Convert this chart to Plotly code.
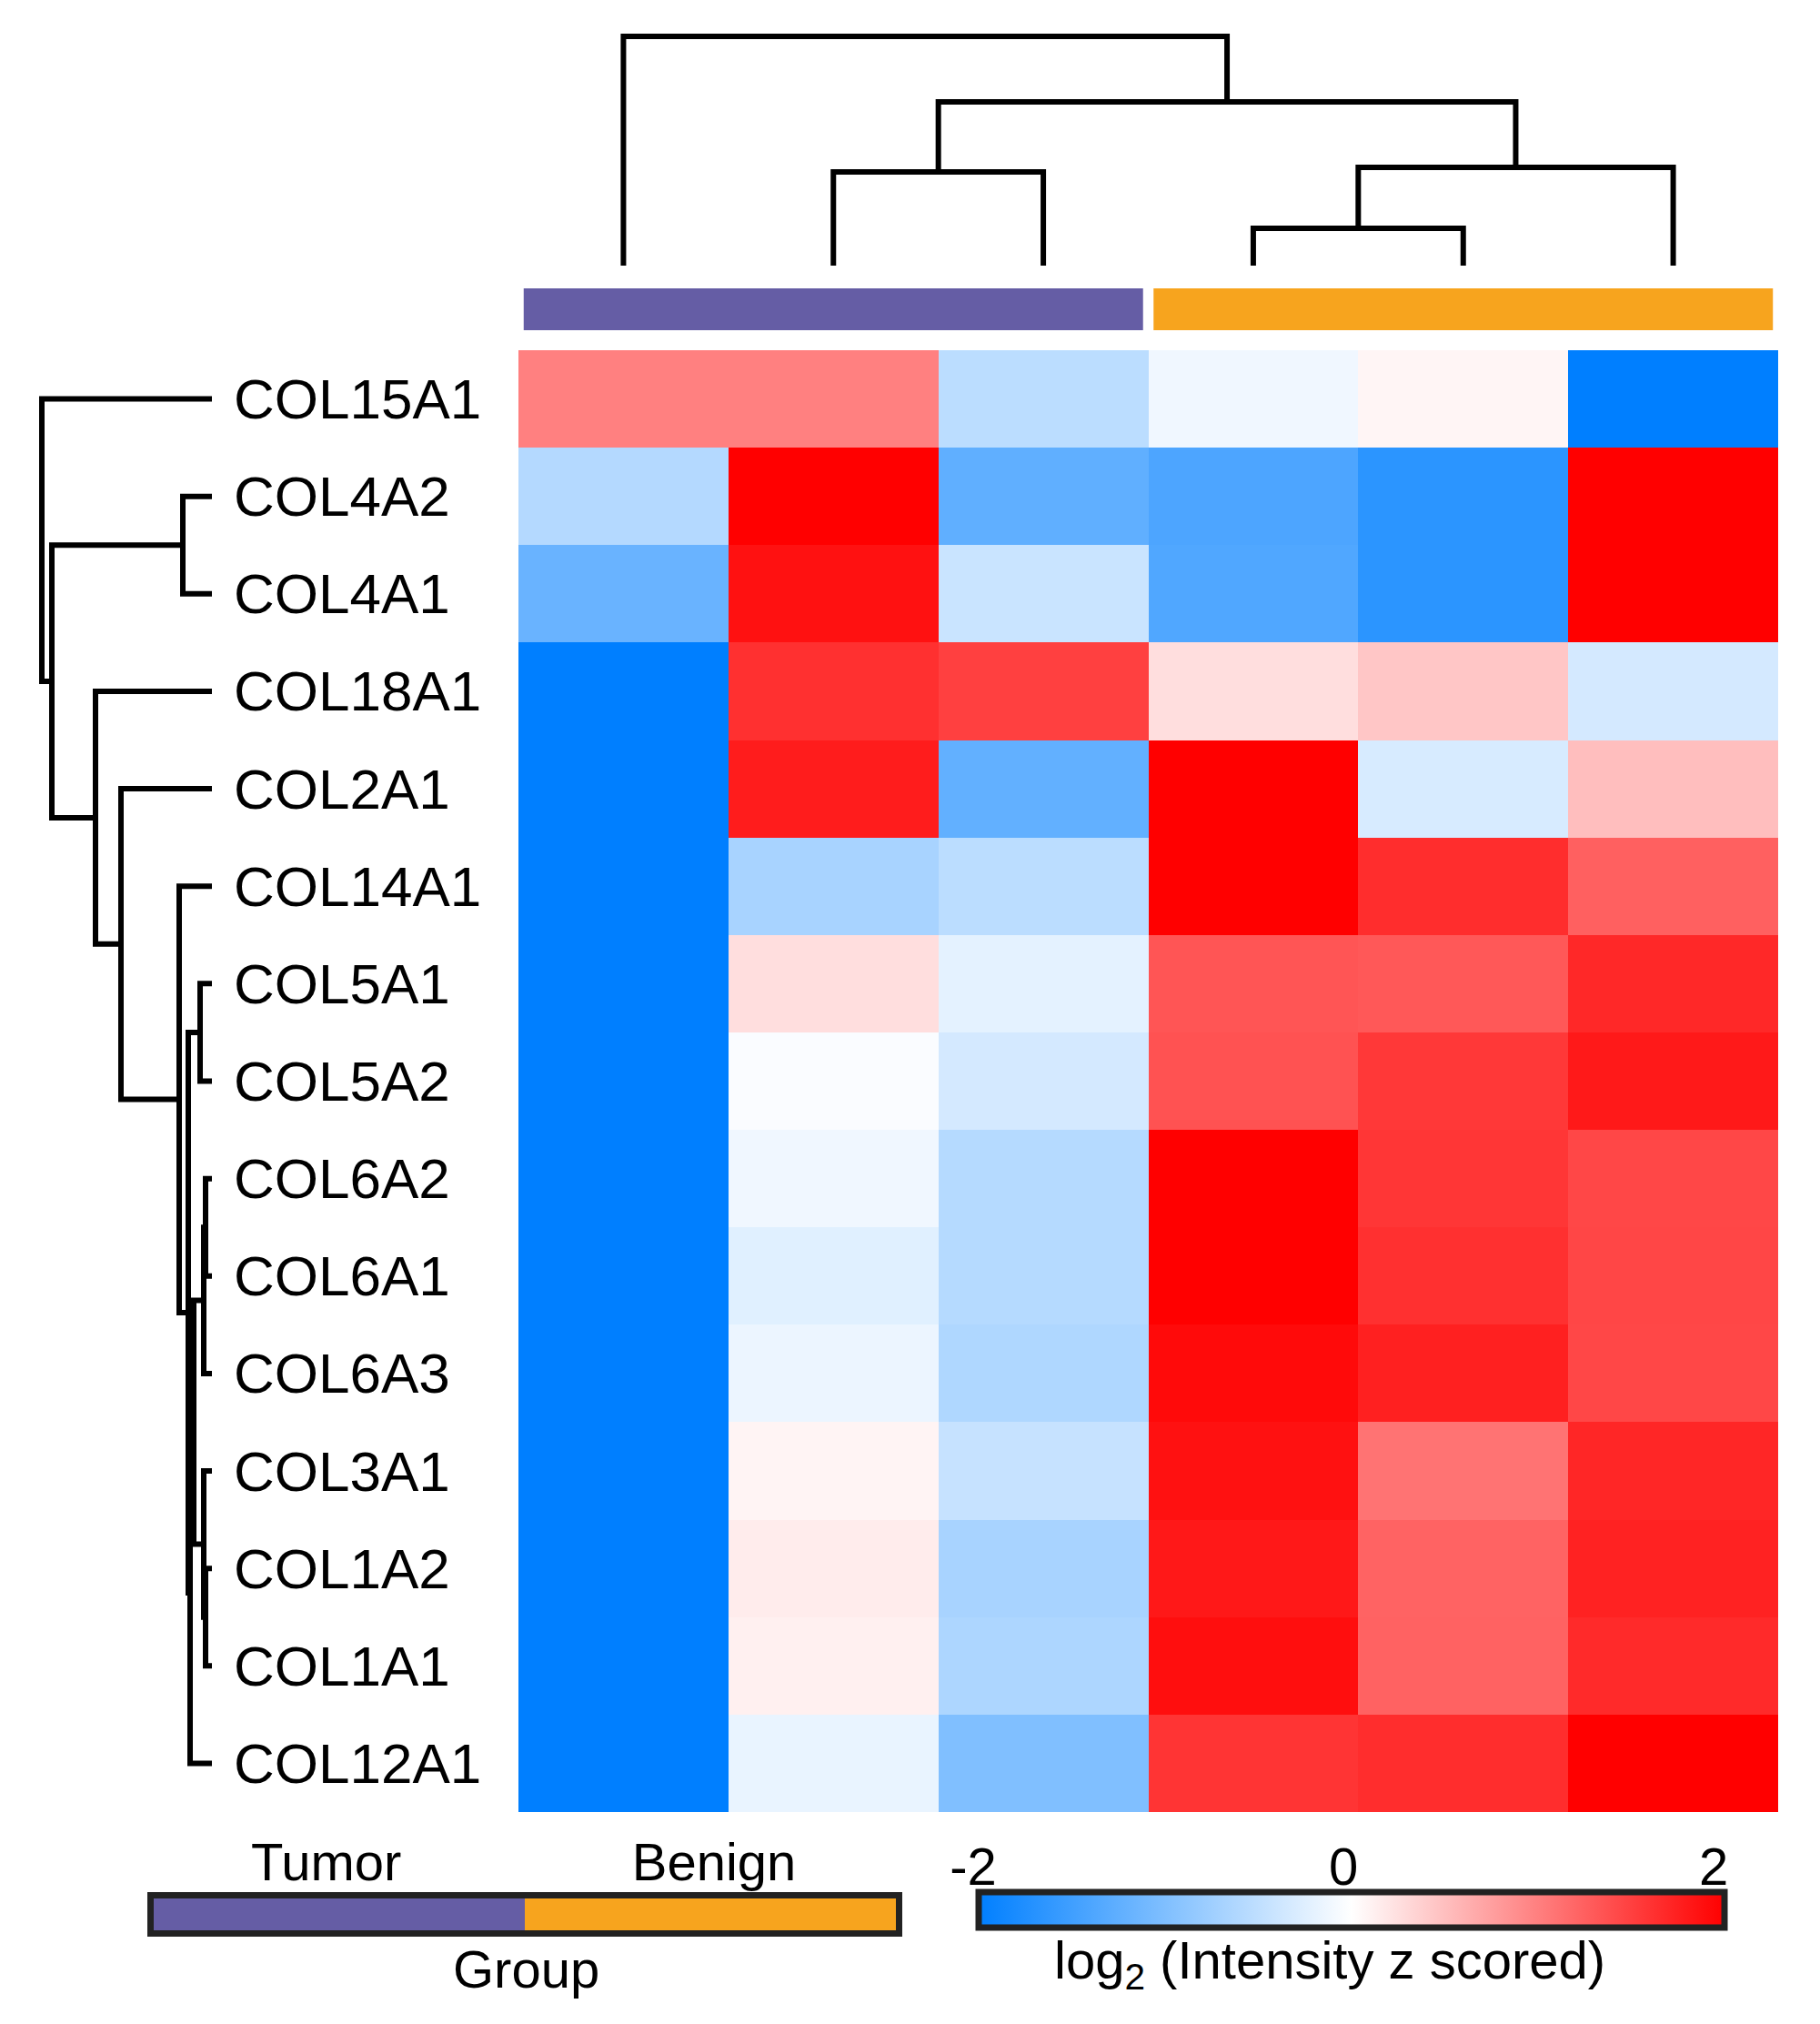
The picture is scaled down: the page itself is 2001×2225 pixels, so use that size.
import plotly.graph_objects as go

W, H = 2001, 2225
OFF = 8  # default page margin of the html body
FONT = "Arial, 'Liberation Sans', sans-serif"

# ---------------- data ----------------
genes = ["COL15A1", "COL4A2", "COL4A1", "COL18A1", "COL2A1", "COL14A1", "COL5A1",
         "COL5A2", "COL6A2", "COL6A1", "COL6A3", "COL3A1", "COL1A2", "COL1A1", "COL12A1"]
samples = [0, 1, 2, 3, 4, 5]
sample_group = ["Tumor", "Tumor", "Tumor", "Benign", "Benign", "Benign"]
groups = ["Tumor", "Benign"]
group_colors = {"Tumor": "#655DA5", "Benign": "#F7A41E"}

z_COL15A1 = [1.00, 1.00, -0.53, -0.12, 0.08, -2.00]
z_COL4A2 = [-0.59, 2.00, -1.25, -1.40, -1.66, 2.00]
z_COL4A1 = [-1.18, 1.87, -0.42, -1.37, -1.66, 2.00]
z_COL18A1 = [-2.00, 1.62, 1.50, 0.26, 0.45, -0.34]
z_COL2A1 = [-2.00, 1.78, -1.23, 2.00, -0.31, 0.51]
z_COL14A1 = [-2.00, -0.68, -0.53, 2.00, 1.65, 1.25]
z_COL5A1 = [-2.00, 0.26, -0.21, 1.33, 1.31, 1.69]
z_COL5A2 = [-2.00, -0.04, -0.34, 1.36, 1.56, 1.80]
z_COL6A2 = [-2.00, -0.12, -0.58, 2.00, 1.58, 1.44]
z_COL6A1 = [-2.00, -0.24, -0.58, 2.00, 1.62, 1.45]
z_COL6A3 = [-2.00, -0.15, -0.63, 1.92, 1.75, 1.44]
z_COL3A1 = [-2.00, 0.09, -0.45, 1.87, 1.10, 1.70]
z_COL1A2 = [-2.00, 0.15, -0.68, 1.81, 1.22, 1.73]
z_COL1A1 = [-2.00, 0.12, -0.64, 1.89, 1.23, 1.67]
z_COL12A1 = [-2.00, -0.17, -1.00, 1.59, 1.65, 2.00]

z = [z_COL15A1, z_COL4A2, z_COL4A1, z_COL18A1, z_COL2A1, z_COL14A1, z_COL5A1, z_COL5A2,
     z_COL6A2, z_COL6A1, z_COL6A3, z_COL3A1, z_COL1A2, z_COL1A1, z_COL12A1]

# dendrogram linkages: (child_a, child_b, merge height); leaves 0..n-1, new nodes n, n+1, ...
col_linkage = [(3, 4, 2.05), (6, 5, 5.4), (1, 2, 5.15), (8, 7, 9.0), (0, 9, 12.6)]
row_linkage = [(8, 9, 0.35), (15, 10, 0.45), (12, 13, 0.35), (11, 17, 0.45), (6, 7, 0.65),
               (16, 18, 1.0), (20, 14, 1.2), (19, 21, 1.3), (5, 22, 1.8), (4, 23, 5.0),
               (3, 24, 6.4), (1, 2, 1.6), (26, 25, 8.8), (0, 27, 9.35)]

colorscale = [[0.0, "#007FFF"], [0.5, "#FFFFFF"], [1.0, "#FF0000"]]
zmin, zmax = -2, 2
cbar_ticks = [-2, 0, 2]


def fx(px):
    return (px - OFF) / W


def fy(py):
    return 1 - (py - OFF) / H


def dendro(link, n):
    pos = {i: float(i) for i in range(n)}
    hgt = {i: 0.0 for i in range(n)}
    p, h = [], []
    for k, (a, b, hh) in enumerate(link):
        node = n + k
        p += [pos[a], pos[a], pos[b], pos[b], None]
        h += [hgt[a], hh, hh, hgt[b], None]
        pos[node] = (pos[a] + pos[b]) / 2
        hgt[node] = hh
    return p, h


fig = go.Figure()

# main heatmap
fig.add_trace(go.Heatmap(
    z=z, x=samples, y=list(range(len(genes))), colorscale=colorscale,
    zmin=zmin, zmax=zmax, xaxis="x", yaxis="y", hoverinfo="skip",
    colorbar=dict(orientation="h", x=fx(1485.5), xanchor="center", y=fy(2103), yanchor="middle",
                  len=820, lenmode="pixels", thickness=39, thicknessmode="pixels",
                  xpad=0, ypad=0, outlinewidth=7, outlinecolor="#222222",
                  showticklabels=False, ticks="")))

# column dendrogram
cp, ch = dendro(col_linkage, len(samples))
fig.add_trace(go.Scatter(x=cp, y=ch, mode="lines", line=dict(color="black", width=6),
                         xaxis="x", yaxis="y2", hoverinfo="skip"))

# row dendrogram
rp, rh = dendro(row_linkage, len(genes))
fig.add_trace(go.Scatter(x=rh, y=rp, mode="lines", line=dict(color="black", width=6),
                         xaxis="x2", yaxis="y", hoverinfo="skip"))

# group annotation bar above heatmap
inset = 0.025
runs = []
start = 0
for i in range(1, len(sample_group) + 1):
    if i == len(sample_group) or sample_group[i] != sample_group[start]:
        runs.append((sample_group[start], start, i - 1))
        start = i
for g, s, e in runs:
    fig.add_trace(go.Bar(orientation="h", y=[0], x=[e - s + 1 - 2 * inset], base=[s - 0.5 + inset],
                         width=1, marker=dict(color=group_colors[g], line=dict(width=0)),
                         xaxis="x", yaxis="y3", hoverinfo="skip"))

# group legend
fig.add_trace(go.Heatmap(z=[[0, 1]], x=[0, 1], y=[0], showscale=False, hoverinfo="skip",
                         colorscale=[[0, group_colors[groups[0]]], [0.5, group_colors[groups[0]]],
                                     [0.5, group_colors[groups[1]]], [1, group_colors[groups[1]]]],
                         zmin=0, zmax=1, xaxis="x3", yaxis="y4"))

# invisible trace carrying the colour bar tick axis
fig.add_trace(go.Scatter(x=[zmin, zmax], y=[0, 0], mode="markers", marker=dict(opacity=0),
                         xaxis="x4", yaxis="y5", hoverinfo="skip"))

hidden = dict(visible=False, showgrid=False, zeroline=False, fixedrange=True)

ppu = 20.0
top_rng = [-0.3, 13.2]
left_rng = [9.6, -0.25]
legend_label_shift = [-0.035, 0.01]

fig.update_layout(
    width=W, height=H, margin=dict(l=0, r=0, t=0, b=0, autoexpand=False),
    paper_bgcolor="white", plot_bgcolor="rgba(0,0,0,0)", showlegend=False,
    barmode="overlay",
    font=dict(family=FONT, color="black", size=58),
    xaxis=dict(domain=[fx(570), fx(1955)], range=[-0.5, 5.5], anchor="y", **hidden),
    yaxis=dict(domain=[fy(1992), fy(385)], range=[len(genes) - 0.5, -0.5], anchor="x", **hidden),
    yaxis2=dict(domain=[fy(292 - top_rng[0] * ppu), fy(292 - top_rng[1] * ppu)], range=top_rng,
                anchor="x", **hidden),
    xaxis2=dict(domain=[fx(233 - left_rng[0] * ppu), fx(233 - left_rng[1] * ppu)], range=left_rng,
                anchor="y", **hidden),
    yaxis3=dict(domain=[fy(363), fy(317)], range=[-0.5, 0.5], anchor="x", **hidden),
    xaxis3=dict(domain=[fx(169), fx(985)], range=[-0.5, 1.5], anchor="y4", side="top",
                tickvals=[i + d for i, d in enumerate(legend_label_shift)], ticktext=groups,
                ticks="", showline=True, mirror=True, ticklabelstandoff=-10,
                linewidth=7, linecolor="#222222", showgrid=False, zeroline=False,
                tickfont=dict(size=58), fixedrange=True),
    yaxis4=dict(domain=[fy(2122), fy(2087)], range=[-0.5, 0.5], anchor="x3", showticklabels=False,
                ticks="", showline=True, mirror=True, linewidth=7, linecolor="#222222",
                showgrid=False, zeroline=False, fixedrange=True),
    xaxis4=dict(domain=[fx(1070), fx(1884)], range=[zmin, zmax], anchor="y5", side="top",
                tickvals=cbar_ticks, ticktext=[str(t) for t in cbar_ticks], ticks="",
                ticklabelstandoff=-5,
                showline=False, showgrid=False, zeroline=False, tickfont=dict(size=58),
                fixedrange=True),
    yaxis5=dict(domain=[fy(2126), fy(2080)], range=[-0.5, 0.5], anchor="x4", **hidden),
)

annotations = []
for i, g in enumerate(genes):
    annotations.append(dict(text=g, x=fx(255), xref="paper", y=i, yref="y", xanchor="left",
                            yanchor="middle", showarrow=False, font=dict(size=62)))
annotations.append(dict(text="Group", x=fx(578), y=fy(2164), xref="paper", yref="paper",
                        xanchor="center", yanchor="middle", showarrow=False, font=dict(size=58)))
annotations.append(dict(text="log<sub>2</sub> (Intensity z scored)", x=fx(1462), y=fy(2159),
                        xref="paper", yref="paper", xanchor="center", yanchor="middle",
                        showarrow=False, font=dict(size=58)))
fig.update_layout(annotations=annotations)

fig.write_html("out.html")
